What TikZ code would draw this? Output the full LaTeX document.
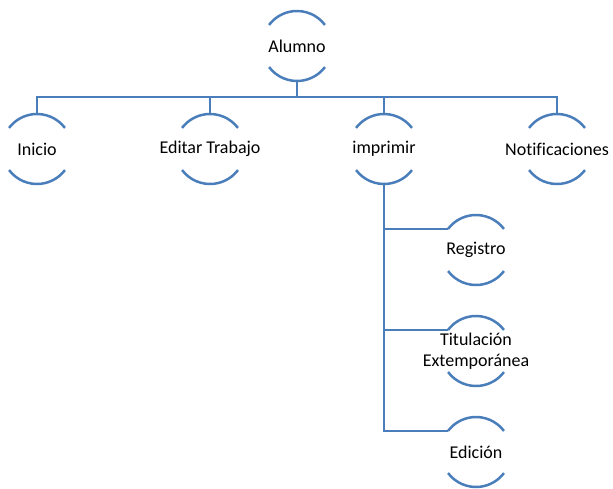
\documentclass[tikz,border=0pt]{standalone}
\usepackage{fontspec}
\setmainfont[Ligatures=NoCommon]{Carlito}
\definecolor{linkblue}{HTML}{4A7EBB}
\tikzset{
  ln/.style={draw=linkblue, line width=2.5pt, line join=miter, line cap=butt},
  lbl/.style={inner sep=0pt, align=center, font=\fontsize{18}{21.5}\selectfont, text=black},
}
% a labelled node framed by a top and a bottom arc of radius 35pt
\newcommand{\arcnode}[3]{%
  \node[lbl] (#1) at (#2) {#3};
  \draw[ln] ([shift={(37:35pt)}]#1.center) arc[start angle=37, end angle=143, radius=35pt];
  \draw[ln] ([shift={(217:35pt)}]#1.center) arc[start angle=217, end angle=323, radius=35pt];
  \coordinate (#1-t) at ([yshift=35pt]#1.center);
  \coordinate (#1-b) at ([yshift=-35pt]#1.center);
  \coordinate (#1-l) at ([shift={(143:35pt)}]#1.center);
}
\begin{document}
\begin{tikzpicture}[x=1pt, y=-1pt]
  \useasboundingbox (0,0) rectangle (613,489);

  \arcnode{alumno}{297,46}{Alumno}
  \arcnode{inicio}{37,149}{Inicio}
  \arcnode{editar}{210,149}{Editar Trabajo}
  \arcnode{imprimir}{384,149}{imprimir}
  \arcnode{notif}{557,149}{Notificaciones}
  \arcnode{registro}{476,250}{Registro}
  \arcnode{titulacion}{476,351}{Titulación\\Extemporánea}
  \arcnode{edicion}{476,452}{Edición}

  % horizontal bus under the root
  \coordinate (bus) at (297,97);
  \draw[ln] (alumno-b) -- (bus);
  \draw[ln] (inicio-t) |- (bus);
  \draw[ln] (notif-t) |- (bus);
  \draw[ln] (editar-t) -- (editar-t |- bus);
  \draw[ln] (imprimir-t) -- (imprimir-t |- bus);

  % vertical trunk with side branches
  \draw[ln] (imprimir-b) |- (edicion-l);
  \draw[ln] (imprimir-b |- registro-l) -- (registro-l);
  \draw[ln] (imprimir-b |- titulacion-l) -- (titulacion-l);
\end{tikzpicture}
\end{document}
